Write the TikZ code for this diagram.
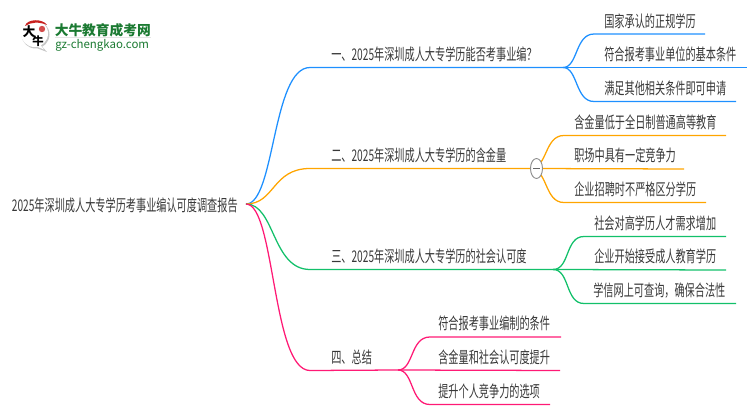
\documentclass[tikz,border=0pt]{standalone}
\usepackage{fontspec}
\setmainfont[FakeStretch=0.63]{Noto Sans CJK SC}
\newfontfamily\logofont{Noto Sans CJK SC}
\usetikzlibrary{shapes.geometric}
\definecolor{mapblue}{HTML}{1E90FF}
\definecolor{maporange}{HTML}{FFA500}
\definecolor{mapgreen}{HTML}{12C06A}
\definecolor{mappink}{HTML}{FF1A75}
\definecolor{logogreen}{HTML}{1B7A32}
\definecolor{logored}{HTML}{C8201E}
\begin{document}
\begin{tikzpicture}
        [x=0.75pt, y=-0.75pt,
        txt/.style={font=\fontsize{12.1pt}{13pt}\selectfont, text=black!78, inner sep=0pt},
        blueedge/.style={draw=mapblue, line width=0.95pt},
        orangeedge/.style={draw=maporange, line width=0.95pt},
        greenedge/.style={draw=mapgreen, line width=0.95pt},
        pinkedge/.style={draw=mappink, line width=0.95pt}]

        \useasboundingbox (0,0) rectangle (750,410);

        % logo
        \fill[black!22] (35.5,34.5) circle (14) (38,42) -- (47,52) -- (31,46) -- cycle;
        \fill[white] (34.5,33.5) circle (13.5) (38,42) -- (44,49.5) -- (33,45) -- cycle;
        \fill[logored] (25,26) .. controls (27,18.5) and (43,18.5) .. (47,25) .. controls (39,21.5) and (31,22) .. (25,26) -- cycle;
        \fill[logored!80] (42,29) circle (3.2);
        \node[txt, font=\logofont\fontsize{9.5pt}{9.5pt}\selectfont\bfseries, text=black] (logoa) at (29,32) {大};
        \node[txt, font=\logofont\fontsize{8.5pt}{8.5pt}\selectfont\bfseries, text=black] (logob) at (38,41) {牛};
        \node[txt, anchor=west, font=\logofont\fontsize{10.3pt}{12pt}\selectfont\bfseries, text=logogreen] (logoname) at (54.5,30) {大牛教育成考网};
        \node[txt, anchor=west, font=\logofont\fontsize{8.6pt}{9pt}\selectfont, text=logogreen] (logourl) at (55,45) {gz-chengkao.com};
        \draw[black!10, line width=0.6pt] (logoname.south west) -- (logoname.south east);

        % root
        \node[txt, anchor=east] (root) at (238,205) {2025年深圳成人大专学历考事业编认可度调查报告};
        \coordinate (r) at (246,204);

        % branches
        \node[txt, anchor=south west] (one) at (331,62.5) {一、2025年深圳成人大专学历能否考事业编？};
        \node[txt, anchor=south west] (two) at (331,163.5) {二、2025年深圳成人大专学历的含金量};
        \node[txt, anchor=south west] (three) at (331,264.5) {三、2025年深圳成人大专学历的社会认可度};
        \node[txt, anchor=south west] (four) at (331,365.5) {四、总结};

        \coordinate (b1) at (310,67.5);
        \coordinate (b2) at (310,168.5);
        \coordinate (b3) at (310,269.5);
        \coordinate (b4) at (310,370.5);
        \coordinate (f1) at (563,67.5);
        \coordinate (f2) at (530,168.5);
        \coordinate (f3) at (553,269.5);
        \coordinate (f4) at (398,370);

        % leaves
        \node[txt, anchor=south west] (l11) at (604,29.5) {国家承认的正规学历};
        \node[txt, anchor=south west] (l12) at (604,62.5) {符合报考事业单位的基本条件};
        \node[txt, anchor=south west] (l13) at (604,96.5) {满足其他相关条件即可申请};
        \node[txt, anchor=south west] (l21) at (574,130.5) {含金量低于全日制普通高等教育};
        \node[txt, anchor=south west] (l22) at (574,163.5) {职场中具有一定竞争力};
        \node[txt, anchor=south west] (l23) at (574,197.5) {企业招聘时不严格区分学历};
        \node[txt, anchor=south west] (l31) at (594,231.5) {社会对高学历人才需求增加};
        \node[txt, anchor=south west] (l32) at (594,264.5) {企业开始接受成人教育学历};
        \node[txt, anchor=south west] (l33) at (593,298.5) {学信网上可查询，确保合法性};
        \node[txt, anchor=south west] (l41) at (438,331.5) {符合报考事业编制的条件};
        \node[txt, anchor=south west] (l42) at (438,365.5) {含金量和社会认可度提升};
        \node[txt, anchor=south west] (l43) at (438,399.5) {提升个人竞争力的选项};

        % blue
        \draw[blueedge] (r) .. controls (275,204) and (272,67.5) .. (b1) -- (f1);
        \draw[blueedge] (f1) .. controls (578,67.5) and (575,34) .. (594,34) -- (705,34);
        \draw[blueedge] (f1) -- (747,67.5);
        \draw[blueedge] (f1) .. controls (578,67.5) and (575,101.5) .. (594,101.5) -- (736,101.5);

        % orange
        \draw[orangeedge] (r) .. controls (275,204) and (272,168.5) .. (b2) -- (f2);
        \draw[orangeedge] (f2) .. controls (548,168.5) and (544,135.5) .. (564,135.5) -- (726,135.5);
        \draw[orangeedge] (f2) -- (684,169);
        \draw[orangeedge] (f2) .. controls (548,168.5) and (544,202.5) .. (564,202.5) -- (706,202.5);

        % green
        \draw[greenedge] (r) .. controls (275,204) and (272,269.5) .. (b3) -- (f3);
        \draw[greenedge] (f3) .. controls (570,269.5) and (565,236.5) .. (584,236.5) -- (726,236.5);
        \draw[greenedge] (f3) -- (726,270);
        \draw[greenedge] (f3) .. controls (570,269.5) and (565,303.5) .. (584,303.5) -- (736,303.5);

        % pink
        \draw[pinkedge] (r) .. controls (275,204) and (272,370.5) .. (b4) -- (f4);
        \draw[pinkedge] (f4) .. controls (414,370) and (410,337) .. (430,337) -- (561,337);
        \draw[pinkedge] (f4) -- (560,370.5);
        \draw[pinkedge] (f4) .. controls (414,370) and (410,404.5) .. (430,404.5) -- (550,404.5);

        % fold button on the second branch
        \node[draw=black!45, fill=white, ellipse, inner sep=0pt, minimum width=9pt, minimum height=15pt, line width=0.7pt] (fold) at (536.5,168.5) {};
        \draw[black!60, line width=0.7pt] ([xshift=-2.5pt]fold.center) -- ([xshift=2.5pt]fold.center);

    \end{tikzpicture}
\end{document}
